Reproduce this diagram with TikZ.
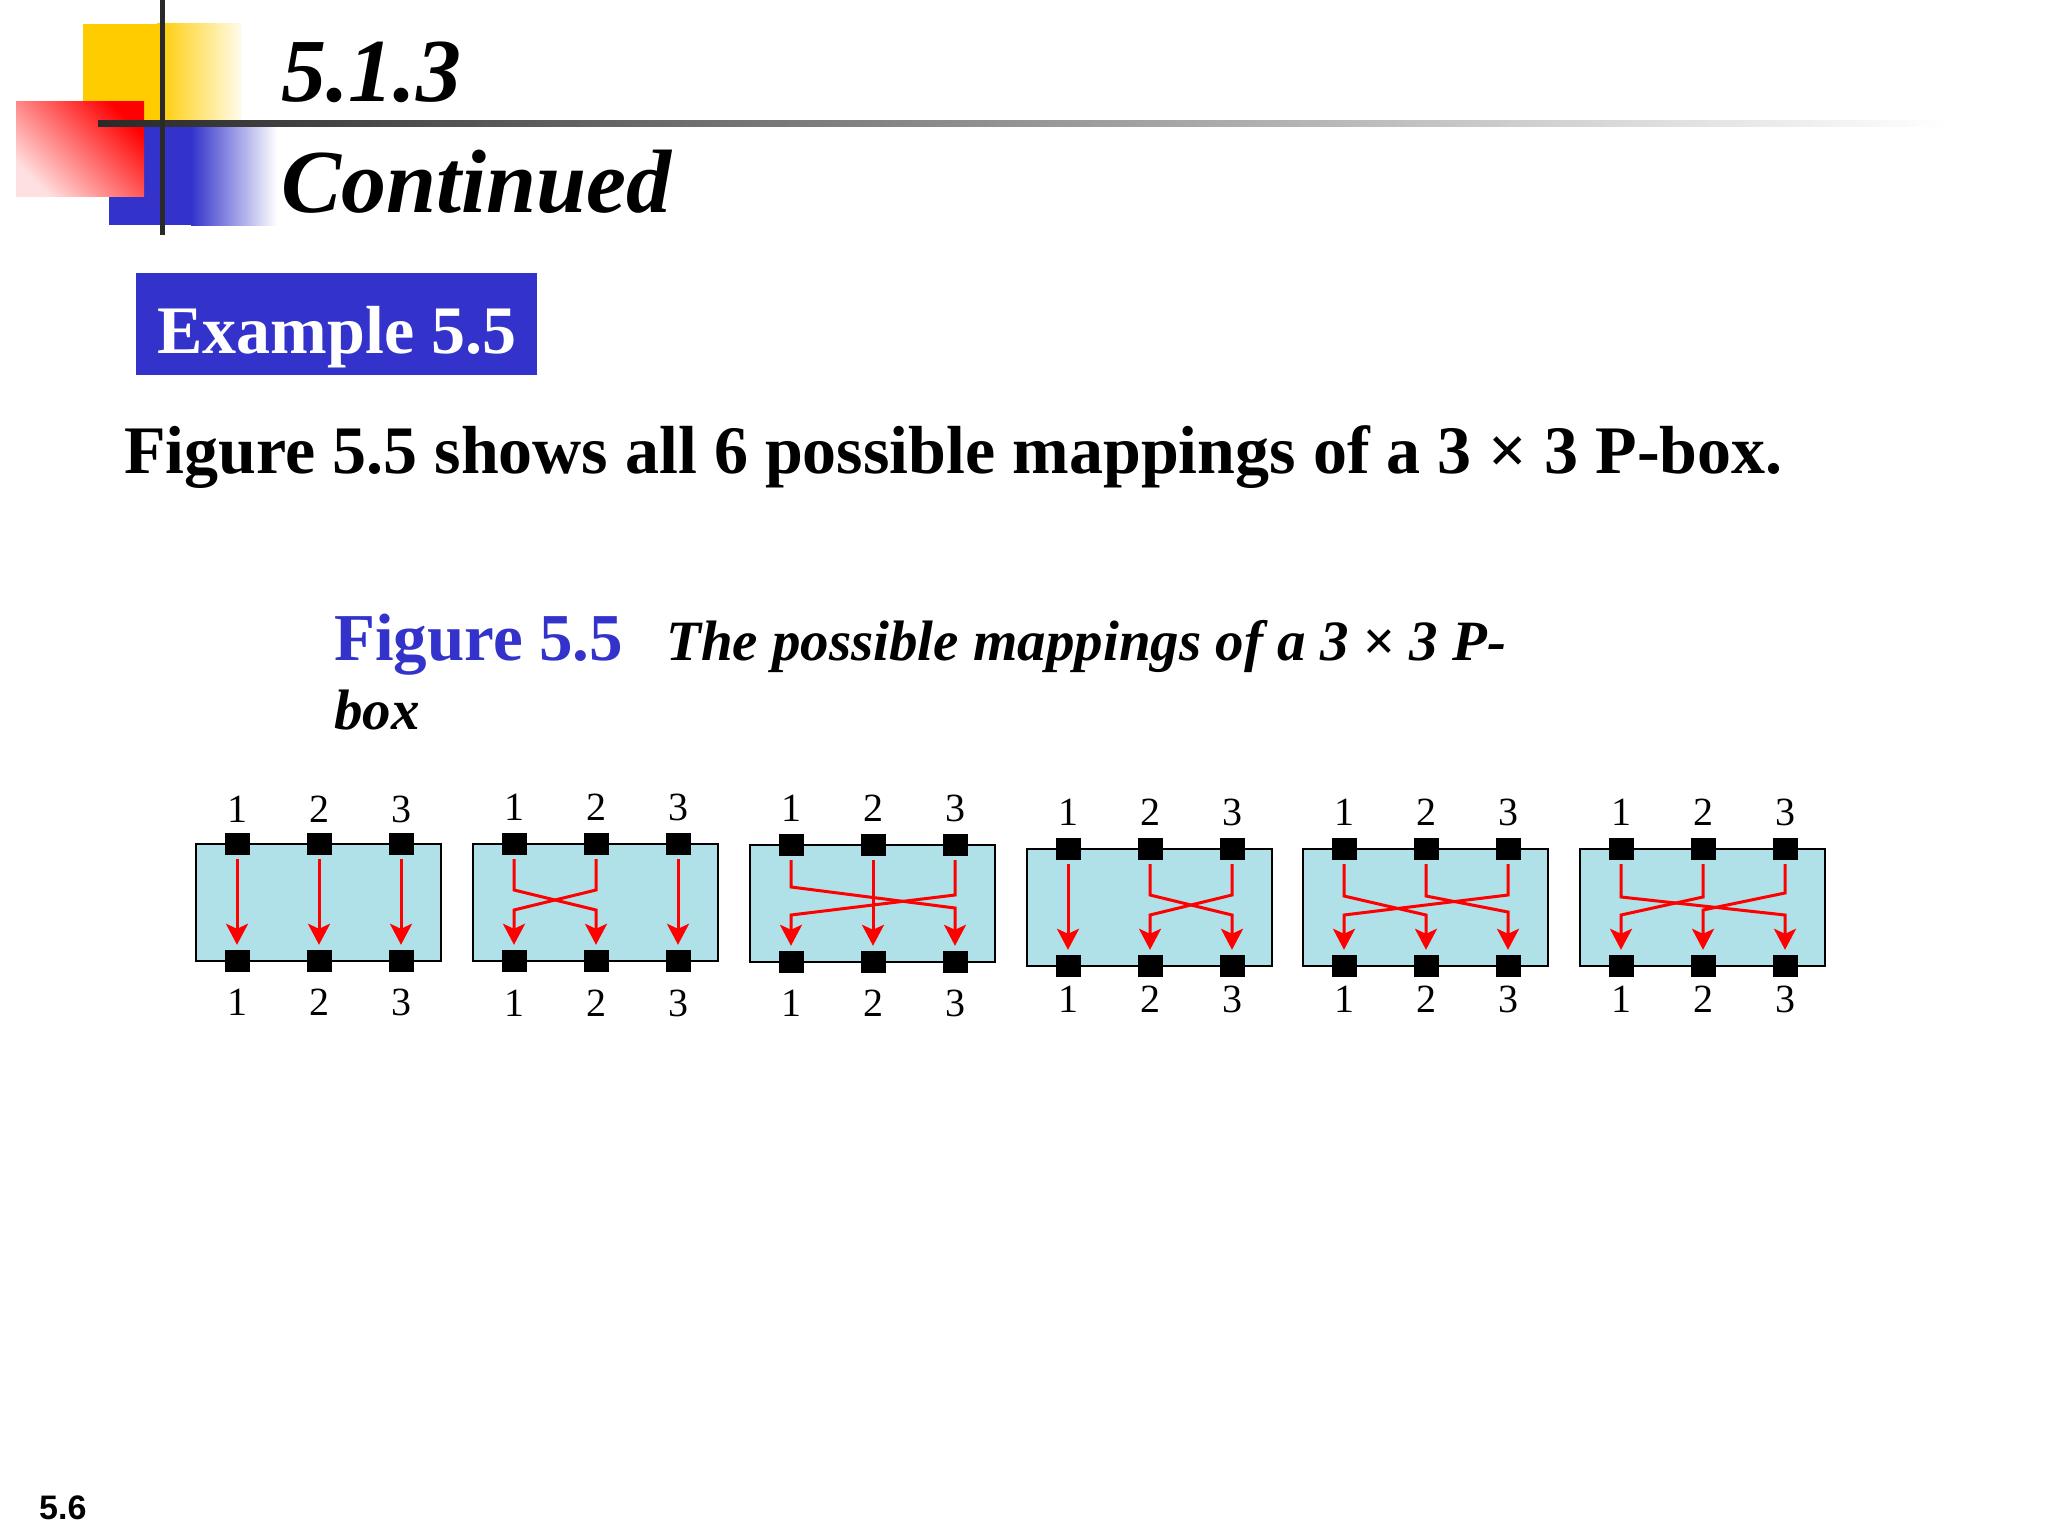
\documentclass[tikz,border=0pt]{standalone}
\usepackage{fontspec}
\setmainfont{Liberation Serif}
\newfontfamily\sansbf{Liberation Sans}
\usetikzlibrary{arrows.meta}
\definecolor{boxblue}{HTML}{B0E0E8}
\definecolor{exblue}{HTML}{3333CC}
\definecolor{ylw}{HTML}{FFCC00}
\definecolor{mapred}{HTML}{FF0000}
\definecolor{barcol}{HTML}{2A2A2A}
\tikzset{
 pbox/.style={draw=black, line width=2.5pt, fill=boxblue, minimum width=245pt, minimum height=117pt, inner sep=0pt},
 sq/.style={fill=black, minimum width=25pt, minimum height=22pt, inner sep=0pt},
 lbl/.style={font=\fontsize{40}{40}\selectfont, inner sep=0pt, anchor=base},
 maparrow/.style={draw=mapred, line width=3pt, -{Stealth[length=21pt,width=22pt,inset=5pt]}, shorten <=4pt, shorten >=5pt},
 titletxt/.style={anchor=base west, inner sep=0pt, font=\fontsize{90}{90}\selectfont\bfseries\itshape},
}
% #1 name, #2 left, #3 top, #4 top-label baseline, #5 bottom-label baseline
\newcommand{\PBox}[5]{%
  \node[pbox] (#1) at ({#2+122.5},{#3+58.5}) {};
  \foreach \i/\dx in {1/41,2/123,3/205}{%
    \node[sq] (#1t\i) at ({#2+\dx},#3) {};
    \node[sq] (#1b\i) at ({#2+\dx},{#3+117}) {};
    \node[lbl] (#1lt\i) at ({#2+\dx},#4) {\i};
    \node[lbl] (#1lb\i) at ({#2+\dx},#5) {\i};
  }%
}
\newcommand{\Straight}[2]{\draw[maparrow] (#1t#2.south) -- (#1b#2.north);}
\newcommand{\Cross}[5]{\draw[maparrow] (#1t#2.south) -- (#1t#2.south |- 0,#4) -- (#1b#3.north |- 0,#5) -- (#1b#3.north);}
\begin{document}
\begin{tikzpicture}[x=1pt,y=-1pt]
\fill[white] (0,0) rectangle (2048,1536);
\useasboundingbox (0,0) rectangle (2048,1536);
% decoration
\fill[ylw] (83,24) rectangle (158,124);
\shade[left color=ylw, right color=ylw!8] (157,24) rectangle (241,124);
\fill[exblue] (109,124) rectangle (192,225);
\shade[left color=exblue, right color=white] (191,124) rectangle (277,225);
\shade[top color=red, bottom color=red!12, shading angle=-45] (16,102) rectangle (144,196);
\shade[left color=barcol, middle color=black!50, right color=white] (98,121) rectangle (1946,127);
\fill[barcol] (159.5,0) rectangle (164.5,235);
% titles
\node[titletxt] (sec) at (281,102) {5.1.3};
\node[titletxt] (cont) at (281,212) {Continued};
\node[fill=exblue, minimum width=401pt, minimum height=102pt, inner sep=0pt] (exbox) at (336.5,324) {};
\node[anchor=base, inner sep=0pt, text=white, font=\fontsize{68}{68}\selectfont\bfseries] (extext) at (337,353) {Example 5.5};
\node[anchor=base west, inner sep=0pt, font=\fontsize{68}{68}\selectfont\bfseries] (stmt) at (124,473) {Figure 5.5 shows all 6 possible mappings of a 3 × 3 P-box.};
\node[anchor=base west, inner sep=0pt, text=exblue, font=\fontsize{67}{67}\selectfont\bfseries] (figlbl) at (334,660) {Figure 5.5};
\node[anchor=base west, inner sep=0pt, font=\fontsize{57}{57}\selectfont\bfseries\itshape] (cap1) at (666,660) {The possible mappings of a 3 × 3 P-};
\node[anchor=base west, inner sep=0pt, font=\fontsize{57}{57}\selectfont\bfseries\itshape] (cap2) at (334,729) {box};
\node[anchor=base west, inner sep=0pt, font=\fontsize{34}{34}\selectfont\sansbf\bfseries] (pg) at (39,1519) {5.6};
% P-boxes
\PBox{A}{196}{844}{822}{1015}
\PBox{B}{473}{844}{820}{1016}
\PBox{C}{750}{845}{821}{1016}
\PBox{D}{1027}{849}{825}{1012}
\PBox{E}{1303}{849}{825}{1012}
\PBox{F}{1580}{849}{825}{1012}
% mappings
\Straight{A}{1}\Straight{A}{2}\Straight{A}{3}
\Cross{B}{1}{2}{890}{910}\Cross{B}{2}{1}{890}{910}\Straight{B}{3}
\Cross{C}{1}{3}{887}{908}\Straight{C}{2}\Cross{C}{3}{1}{895}{915}
\Straight{D}{1}\Cross{D}{2}{3}{895}{915}\Cross{D}{3}{2}{895}{915}
\Cross{E}{1}{2}{896}{915}\Cross{E}{2}{3}{896}{912}\Cross{E}{3}{1}{895}{915}
\Cross{F}{1}{3}{897}{915}\Cross{F}{2}{1}{897}{915}\Cross{F}{3}{2}{893}{910}
\end{tikzpicture}
\end{document}
